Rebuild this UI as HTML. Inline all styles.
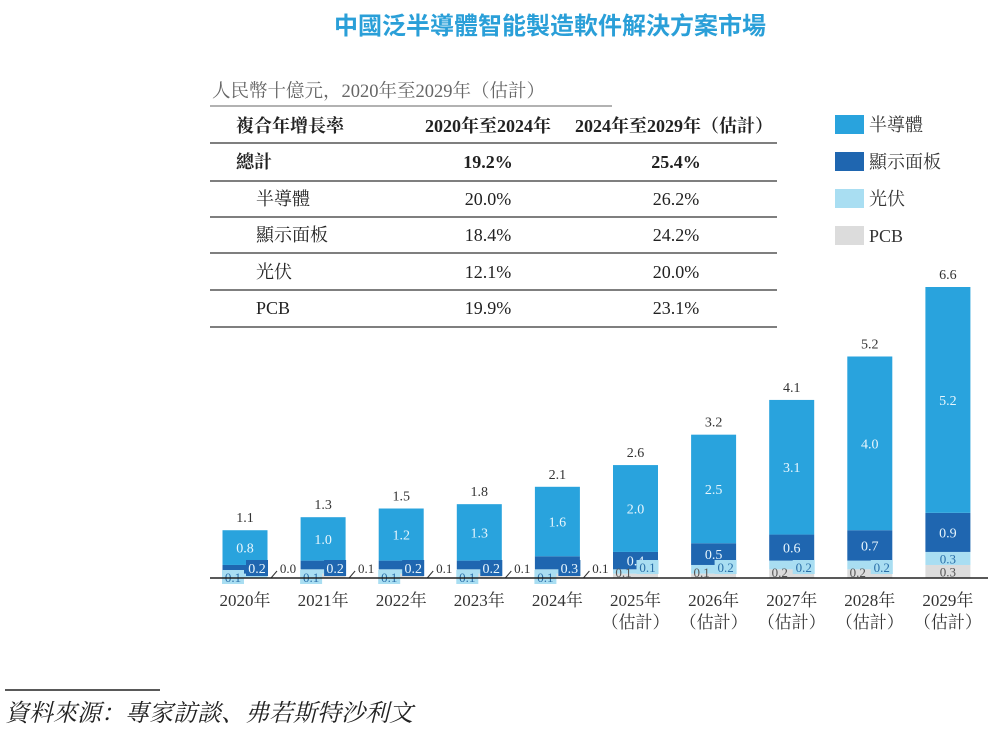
<!DOCTYPE html>
<html><head><meta charset="utf-8"><style>
body{margin:0;width:1000px;height:731px;background:#fff;overflow:hidden;font-family:"Liberation Serif","Noto Serif CJK SC",serif;color:#333}
svg text{font-family:"Liberation Serif","Noto Serif CJK SC",serif}
</style></head><body>
<svg width="1000" height="731">
<text x="550" y="34" text-anchor="middle" font-size="24" fill="#2a9fd8" style="font-family:'Liberation Sans','Noto Sans CJK SC',sans-serif;font-weight:bold">中國泛半導體智能製造軟件解決方案市場</text>
<text x="212" y="97" font-size="18.5" fill="#666">人民幣十億元，2020年至2029年（估計）</text>
<line x1="210" y1="106" x2="612" y2="106" stroke="#999" stroke-width="1.5"/>
<g font-size="18" fill="#222">
<text x="290" y="132" text-anchor="middle" font-weight="bold">複合年增長率</text>
<text x="488" y="132" text-anchor="middle" font-weight="bold">2020年至2024年</text>
<text x="674" y="132" text-anchor="middle" font-weight="bold">2024年至2029年（估計）</text>
<text x="236" y="168" font-weight="bold">總計</text><text x="488" y="168" text-anchor="middle" font-weight="bold">19.2%</text><text x="676" y="168" text-anchor="middle" font-weight="bold">25.4%</text>
<text x="256" y="205">半導體</text><text x="488" y="205" text-anchor="middle">20.0%</text><text x="676" y="205" text-anchor="middle">26.2%</text>
<text x="256" y="241">顯示面板</text><text x="488" y="241" text-anchor="middle">18.4%</text><text x="676" y="241" text-anchor="middle">24.2%</text>
<text x="256" y="278">光伏</text><text x="488" y="278" text-anchor="middle">12.1%</text><text x="676" y="278" text-anchor="middle">20.0%</text>
<text x="256" y="314">PCB</text><text x="488" y="314" text-anchor="middle">19.9%</text><text x="676" y="314" text-anchor="middle">23.1%</text>
<g stroke="#555" stroke-width="1.5"><line x1="210" y1="143" x2="777" y2="143"/><line x1="210" y1="181" x2="777" y2="181"/><line x1="210" y1="217" x2="777" y2="217"/><line x1="210" y1="253" x2="777" y2="253"/><line x1="210" y1="290" x2="777" y2="290"/><line x1="210" y1="327" x2="777" y2="327"/></g>
</g>
<g font-size="18" fill="#333">
<g><rect x="835" y="115" width="29" height="19" fill="#29a3dd"/><text x="869" y="131">半導體</text></g>
<g><rect x="835" y="152" width="29" height="19" fill="#1f66b0"/><text x="869" y="168">顯示面板</text></g>
<g><rect x="835" y="189" width="29" height="19" fill="#a9def2"/><text x="869" y="205">光伏</text></g>
<g><rect x="835" y="226" width="29" height="19" fill="#dcdcdc"/><text x="869" y="242">PCB</text></g>
</g>
<g id="bars"></g>
<line x1="210" y1="578" x2="988" y2="578" stroke="#222" stroke-width="1.5"/>
<line x1="5" y1="690" x2="160" y2="690" stroke="#222" stroke-width="1.5"/>
<text x="5" y="721" font-size="24" font-style="italic" fill="#222">資料來源：專家訪談、弗若斯特沙利文</text>
</svg>
<script>
const years=["2020年","2021年","2022年","2023年","2024年","2025年","2026年","2027年","2028年","2029年"];
const estimated=[false,false,false,false,false,true,true,true,true,true];
const totals=[1.1,1.3,1.5,1.8,2.1,2.6,3.2,4.1,5.2,6.6];
const semi=[0.8,1.0,1.2,1.3,1.6,2.0,2.5,3.1,4.0,5.2];
const display=[0.2,0.2,0.2,0.2,0.3,0.4,0.5,0.6,0.7,0.9];
const pv=[0.1,0.1,0.1,0.1,0.1,0.1,0.2,0.2,0.2,0.3];
const pcb=[0.0,0.1,0.1,0.1,0.1,0.1,0.1,0.2,0.2,0.3];
const NS="http://www.w3.org/2000/svg";
const g=document.getElementById('bars');
const base=578, unit=291/6.7, x0=245, step=78.1, bw=45;
const y=v=>base-v*unit;
const xc=i=>x0+i*step;
function mk(tag,attrs){const e=document.createElementNS(NS,tag);for(const k in attrs)e.setAttribute(k,attrs[k]);return e;}
function txt(x,yy,s,fill,size){const t=mk('text',{x:x,y:yy,'text-anchor':'middle','font-size':size||14,fill:fill});t.textContent=s;return t;}
years.forEach((yr,i)=>{
  const grp=mk('g',{});
  
  
  const cx=xc(i), left=cx-bw/2;
  const vals=[pcb[i],pv[i],display[i],semi[i]];
  const cols=["#dcdcdc","#a9def2","#1f66b0","#29a3dd"];
  const names=["pcb","pv","display","semiconductor"];
  let acc=0;
  vals.forEach((v,k)=>{
    const r=mk('rect',{x:left,y:y(acc+v),width:bw,height:v*unit,fill:cols[k]});
    
    
    grp.appendChild(r);acc+=v;
  });
  const stackTop=y(acc);
  const top=y(pcb[i]+pv[i]+display[i]);
  grp.appendChild(txt(cx,(top+stackTop)/2+5,semi[i].toFixed(1),"#e8f6fd",14));
  grp.appendChild(txt(cx,stackTop-8,totals[i].toFixed(1),"#333",14));
  const dmid=(y(pcb[i]+pv[i])+top)/2;
  if(i<5){
    grp.appendChild(mk('rect',{x:cx-23,y:base-8,width:22,height:14,fill:"#a9def2"}));
    grp.appendChild(txt(cx-12,base+4,pv[i].toFixed(1),"#2a6fa8",13));
    grp.appendChild(mk('rect',{x:cx+1,y:base-18,width:22,height:16,fill:"#1f66b0"}));
    grp.appendChild(txt(cx+12,base-5,display[i].toFixed(1),"#e8f6fd",14));
    grp.appendChild(mk('line',{x1:cx+26,y1:base,x2:cx+32,y2:base-7,stroke:"#333"}));
    grp.appendChild(txt(cx+43,base-5,pcb[i].toFixed(1),"#333",13));
  } else if(i<9){
    grp.appendChild(txt(cx,dmid+5,display[i].toFixed(1),"#e8f6fd",14));
    grp.appendChild(txt(cx-12,base-1,pcb[i].toFixed(1),"#555",13));
    grp.appendChild(mk('rect',{x:cx+1,y:base-18,width:22,height:14,fill:"#a9def2"}));
    grp.appendChild(txt(cx+12,base-6,pv[i].toFixed(1),"#2a6fa8",13));
  } else {
    grp.appendChild(txt(cx,dmid+5,display[i].toFixed(1),"#e8f6fd",14));
    grp.appendChild(txt(cx,(y(pcb[i])+y(pcb[i]+pv[i]))/2+5,pv[i].toFixed(1),"#2a6fa8",13));
    grp.appendChild(txt(cx,(base+y(pcb[i]))/2+5,pcb[i].toFixed(1),"#555",13));
  }
  const lab=txt(cx,606,yr,"#333",17);
  
  
  grp.appendChild(lab);
  if(estimated[i]){const e=txt(cx,628,"（估計）","#333",17);
    
    
    grp.appendChild(e);}
  g.appendChild(grp);
});
</script>
</body></html>
